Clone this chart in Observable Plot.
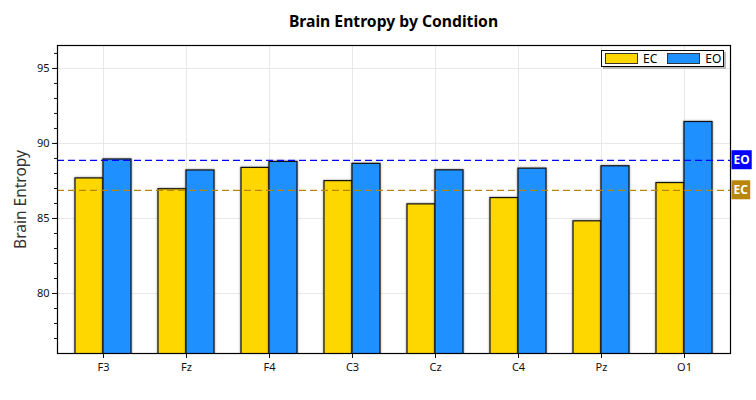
<!DOCTYPE html>
<html>
<head>
<meta charset="utf-8">
<script src="https://cdn.jsdelivr.net/npm/d3@7"></script>
<script src="https://cdn.jsdelivr.net/npm/@observablehq/plot@0.6"></script>
<style>
  body { margin: 0; background: #fff; font-family: "Noto Sans", sans-serif; }
  #wrap { position: relative; width: 756px; height: 400px; }
  #title { height: 40px; box-sizing: border-box; padding: 10px 26px 0 57px; text-align: center;
           font-weight: bold; font-size: 15.7px; line-height: 22px; color: #000; }
  #legend { position: absolute; left: 601px; top: 50px; width: 123px; height: 17px; box-sizing: border-box;
            border: 1px solid #000; background: #fff; box-shadow: 2px 2px 0 #bbb;
            display: flex; align-items: center; font-size: 12px; color: #000; }
  .sw { display: inline-block; width: 31px; height: 9px; border: 1px solid #333; margin-left: 3px; margin-right: 5px; }
  .bars { filter: drop-shadow(0 0 1px rgba(0,0,0,0.45)); }
</style>
</head>
<body>
<div id="wrap">
  <div id="title">Brain Entropy by Condition</div>
  <div id="chart"></div>
  <div id="legend"></div>
</div>
<script>
const sites = ["F3", "Fz", "F4", "C3", "Cz", "C4", "Pz", "O1"];
const conditions = ["EC", "EO"];
const ecValues = [87.67, 86.95, 88.37, 87.49, 85.94, 86.36, 84.81, 87.36];
const eoValues = [88.93, 88.20, 88.77, 88.64, 88.21, 88.32, 88.48, 91.43];
const colors = ["#FFD700", "#1E90FF"];
const lineColors = ["#B8860B", "#0000FF"];
const yTicks = [80, 85, 90, 95];
const yMinorTicks = d3.range(77, 97);
const yDomain = [76, 96.53];

const W = 756, H = 360, ML = 57, MR = 26, MT = 5, MB = 47;
const padIn = 0.328, padOut = 0.2035;
const step = (W - ML - MR) / (sites.length - padIn + 2 * padOut);
const half = step * (1 - padIn) / 2; // half of the group width: one bar

const ec = sites.map((s, i) => ({site: s, cond: "EC", value: ecValues[i]}));
const eo = sites.map((s, i) => ({site: s, cond: "EO", value: eoValues[i]}));
const means = [
  {cond: "EC", value: d3.mean(ecValues), color: lineColors[0]},
  {cond: "EO", value: d3.mean(eoValues), color: lineColors[1]}
];

const chart = Plot.plot({
  width: W, height: H,
  marginTop: MT, marginBottom: MB, marginLeft: ML, marginRight: MR,
  style: {fontFamily: "Noto Sans", fontSize: "11px", color: "#111", background: "#fff"},
  x: {domain: sites, paddingInner: padIn, paddingOuter: padOut, label: null, axis: null},
  y: {domain: yDomain, axis: null},
  color: {domain: conditions, range: colors},
  marks: [
    Plot.gridY(yTicks, {stroke: "#e8e8e8", strokeOpacity: 1}),
    Plot.gridX(sites, {stroke: "#e8e8e8", strokeOpacity: 1}),
    Plot.barY(ec, {x: "site", y: "value", fill: "cond", stroke: "#111", strokeWidth: 1.2, insetRight: half, clip: true, className: "bars"}),
    Plot.barY(eo, {x: "site", y: "value", fill: "cond", stroke: "#111", strokeWidth: 1.2, insetLeft: half, clip: true, className: "bars"}),
    Plot.ruleY(means, {y: "value", stroke: "color", strokeDasharray: "7,4", strokeWidth: 1.3}),
    Plot.text(means, {y: "value", text: "cond", frameAnchor: "right", textAnchor: "start", dx: 3,
      fill: "white", fontWeight: "bold", fontSize: 12}),
    Plot.axisY(yTicks, {anchor: "left", tickSize: 5, tickPadding: 3, label: null}),
    Plot.axisY(yMinorTicks, {anchor: "left", tickSize: 3, text: null, label: null}),
    Plot.axisX(sites, {anchor: "bottom", tickSize: 5, tickPadding: 5, label: null}),
    Plot.text(["Brain Entropy"], {frameAnchor: "left", textAnchor: "middle", rotate: -90, dx: -36, fontSize: 15.5, fill: "#333"}),
    Plot.frame({stroke: "#000", strokeWidth: 1.2})
  ]
});
document.getElementById("chart").appendChild(chart);

// colored boxes behind mean labels
const boxColor = Object.fromEntries(means.map(d => [d.cond, d.color]));
chart.querySelectorAll("text").forEach(t => {
  const g = t.parentNode;
  if (g.getAttribute("fill") === "white" && boxColor[t.textContent] !== undefined) {
    const b = t.getBBox();
    const r = document.createElementNS("http://www.w3.org/2000/svg", "rect");
    r.setAttribute("x", b.x - 2);
    r.setAttribute("y", b.y - 1);
    r.setAttribute("width", b.width + 4);
    r.setAttribute("height", b.height + 2);
    r.setAttribute("fill", boxColor[t.textContent]);
    if (t.getAttribute("transform")) r.setAttribute("transform", t.getAttribute("transform"));
    g.insertBefore(r, t);
  }
});

// legend
const legend = document.getElementById("legend");
conditions.forEach((c, i) => {
  const sw = document.createElement("span");
  sw.className = "sw";
  sw.style.background = colors[i];
  if (i > 0) sw.style.marginLeft = "10px";
  legend.appendChild(sw);
  const lab = document.createElement("span");
  lab.textContent = c;
  legend.appendChild(lab);
});
</script>
</body>
</html>
